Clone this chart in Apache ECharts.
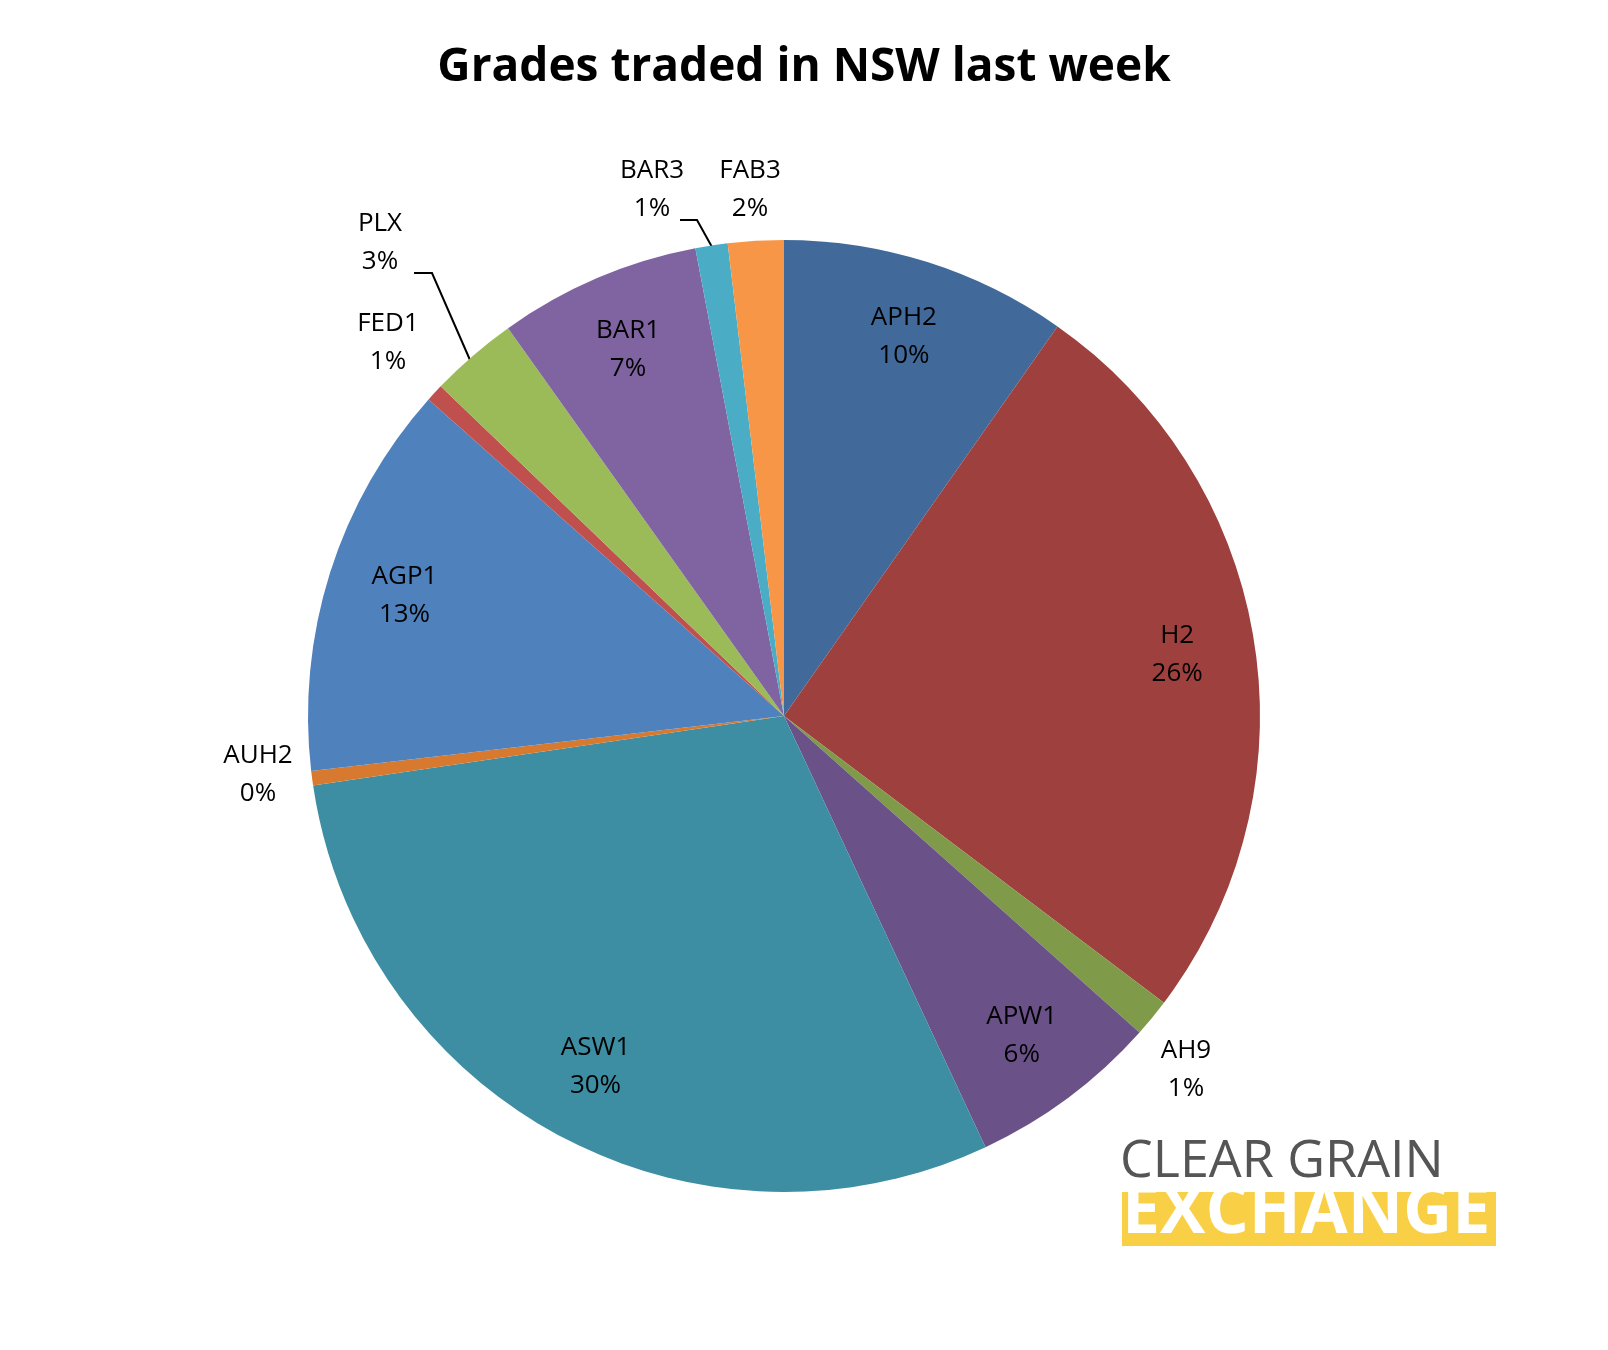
<!doctype html>
<html>
<head>
<meta charset="UTF-8">
<title>Grades traded in NSW last week</title>
<script src="https://cdn.jsdelivr.net/npm/echarts@6/dist/echarts.min.js"></script>
<style>
  html, body { margin: 0; padding: 0; background: #fff; }
  #chart { width: 1608px; height: 1350px; }
</style>
</head>
<body>
<div id="chart"></div>
<script>
var grades = ['APH2', 'H2', 'AH9', 'APW1', 'ASW1', 'AUH2', 'AGP1', 'FED1', 'PLX', 'BAR1', 'BAR3', 'FAB3'];
var shares = [9.8, 25.7, 1.3, 6.5, 29.8, 0.5, 13.5, 0.6, 3.0, 6.9, 1.1, 1.9];
var colors = ['#416a9b', '#9e413e', '#7f9a48', '#6a5187', '#3d8da3', '#d77a2f',
              '#4f81bd', '#c0504d', '#9bbb59', '#8064a2', '#4bacc6', '#f79646'];
var outsideGrades = ['AH9', 'AUH2', 'FED1', 'PLX', 'BAR3', 'FAB3'];
// where the outside labels sit (label centre)
var outsideSpots = {
  AH9: [1186, 1070], AUH2: [258, 775], FED1: [388, 343],
  PLX: [380, 243], BAR3: [652, 190], FAB3: [750, 190]
};
var leaderLines = {
  PLX: [[414, 273], [432, 273], [470, 360]],
  BAR3: [[680, 220], [697, 220], [712, 247]]
};

var total = shares.reduce(function (a, b) { return a + b; }, 0);
function pct(v) { return Math.round(v / total * 100) + '%'; }

var font = '"Open Sans", "Liberation Sans", sans-serif';
var labelStyle = { color: '#000', fontSize: 26, fontFamily: font, lineHeight: 38 };

var mainData = grades.map(function (g, i) {
  return {
    name: g, value: shares[i],
    itemStyle: { color: colors[i] },
    label: { show: outsideGrades.indexOf(g) >= 0 },
    labelLine: { show: !!leaderLines[g] }
  };
});
var overlayData = grades.map(function (g, i) {
  return { name: g, value: shares[i], label: { show: outsideGrades.indexOf(g) < 0 } };
});

var chart = echarts.init(document.getElementById('chart'));
chart.setOption({
  backgroundColor: '#fff',
  title: {
    text: 'Grades traded in NSW last week',
    left: 'center', top: 40,
    textStyle: { fontSize: 46, fontWeight: 'bold', fontFamily: font, color: '#000' }
  },
  series: [{
    type: 'pie',
    center: [784, 716],
    radius: [0, 476],
    startAngle: 90,
    clockwise: true,
    data: mainData,
    label: Object.assign({
      position: 'outside', align: 'center',
      formatter: function (p) { return p.name + '\n' + pct(p.value); }
    }, labelStyle),
    labelLine: { length: 30, length2: 20, lineStyle: { color: '#000', width: 2 } },
    labelLayout: function (p) {
      var g = grades[p.dataIndex];
      var s = outsideSpots[g];
      if (!s) return {};
      var r = { x: s[0], y: s[1], align: 'center', verticalAlign: 'middle' };
      if (leaderLines[g]) r.labelLinePoints = leaderLines[g];
      return r;
    },
    emphasis: { disabled: true }
  }, {
    type: 'pie',
    center: [784, 716],
    radius: [314, 476],
    startAngle: 90,
    clockwise: true,
    silent: true,
    data: overlayData,
    itemStyle: { color: 'rgba(0,0,0,0)' },
    label: Object.assign({
      position: 'inside',
      formatter: function (p) { return p.name + '\n' + pct(p.value); }
    }, labelStyle),
    labelLine: { show: false }
  }],
  graphic: [{
    type: 'text', left: 1120, top: 1136,
    style: { text: 'CLEAR GRAIN', fontSize: 52, fontFamily: font, fill: '#555' }
  }, {
    type: 'rect', left: 1122, top: 1192,
    shape: { width: 374, height: 54 },
    style: { fill: '#f9cf45' }
  }, {
    type: 'text', left: 1122, top: 1180,
    style: { text: 'EXCHANGE', fontSize: 68, fontWeight: 'bold', fontFamily: font, fill: '#fff' }
  }]
});
</script>
</body>
</html>
